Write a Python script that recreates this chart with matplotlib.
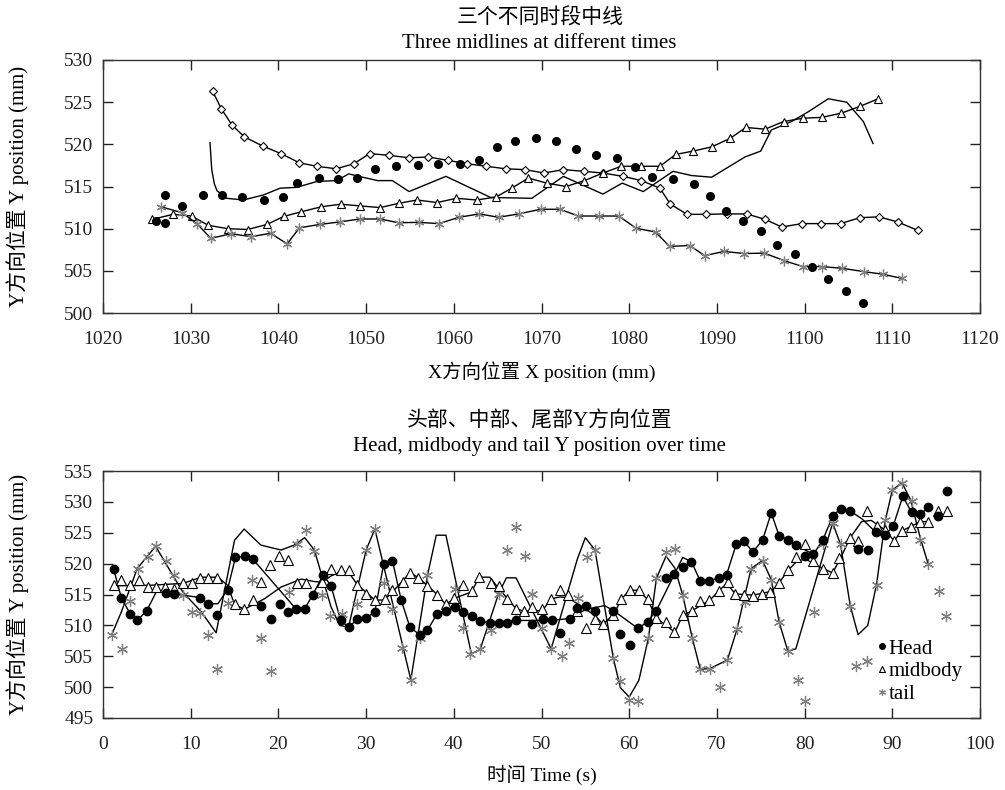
import numpy as np
import matplotlib
matplotlib.use("Agg")
import matplotlib.pyplot as plt
from matplotlib.lines import Line2D

plt.rcParams['font.family'] = ['Liberation Serif', 'Noto Sans CJK SC']
plt.rcParams['axes.unicode_minus'] = False

# ---- top panel: three midlines at different times (X mm, Y mm) ----
dia_x = [1032.5, 1033.5, 1034.7, 1036.1, 1038.2, 1040.3, 1042.4, 1044.4, 1046.6, 1048.6,
         1050.4, 1052.6, 1054.9, 1057.1, 1059.3, 1061.5, 1063.7, 1065.9, 1068.1, 1070.3,
         1072.5, 1074.8, 1077.0, 1079.3, 1081.4, 1083.5, 1084.7, 1086.6, 1088.8, 1091.1,
         1093.4, 1095.5, 1097.4, 1099.7, 1101.9, 1104.1, 1106.3, 1108.5, 1110.6, 1112.9]
dia_y = [526.3, 524.2, 522.3, 520.9, 519.8, 518.9, 517.8, 517.4, 517.1, 517.7,
         518.9, 518.7, 518.4, 518.5, 518.1, 517.7, 517.4, 517.1, 517.0, 516.6,
         517.0, 516.8, 516.6, 516.2, 515.7, 514.8, 512.9, 511.7, 511.7, 511.75,
         511.75, 511.1, 510.2, 510.6, 510.6, 510.6, 511.3, 511.4, 510.8, 509.8]

tri_x = [1025.6, 1028.0, 1030.1, 1032.0, 1034.2, 1036.5, 1038.7, 1040.6, 1042.6, 1044.9,
         1047.1, 1049.3, 1051.6, 1053.7, 1055.8, 1058.1, 1060.3, 1062.6, 1064.8, 1066.6,
         1068.5, 1070.6, 1072.8, 1074.9, 1077.0, 1079.1, 1081.4, 1083.5, 1085.3, 1087.3,
         1089.4, 1091.5, 1093.3, 1095.5, 1097.6, 1099.8, 1102.0, 1104.2, 1106.3, 1108.4]
tri_y = [511.1, 511.7, 511.5, 510.4, 510.0, 509.9, 510.5, 511.45, 512.0, 512.6,
         512.9, 512.7, 512.5, 513.0, 513.4, 513.1, 513.6, 513.4, 513.75, 514.8,
         516.0, 515.4, 515.0, 515.7, 516.6, 517.4, 517.4, 517.4, 518.8, 519.2,
         519.7, 520.7, 522.0, 521.8, 522.7, 523.1, 523.2, 523.7, 524.5, 525.4]

star_x = [1026.6, 1029.0, 1030.7, 1032.3, 1034.6, 1036.9, 1039.1, 1041.0, 1042.4, 1044.7,
          1047.0, 1049.3, 1051.6, 1053.7, 1056.0, 1058.3, 1060.6, 1062.9, 1065.1, 1067.4,
          1069.9, 1072.1, 1074.2, 1076.5, 1078.8, 1080.8, 1083.0, 1084.6, 1086.9, 1088.6,
          1090.8, 1093.1, 1095.4, 1097.7, 1099.8, 1102.0, 1104.3, 1106.8, 1108.9, 1111.1]
star_y = [512.6, 511.9, 510.6, 508.85, 509.4, 509.05, 509.45, 508.2, 510.1, 510.5,
          510.8, 511.15, 511.15, 510.7, 510.75, 510.6, 511.35, 511.75, 511.35, 511.75,
          512.3, 512.3, 511.5, 511.5, 511.5, 510.05, 509.6, 507.9, 508.0, 506.8,
          507.3, 507.05, 507.1, 506.2, 505.5, 505.5, 505.3, 504.9, 504.6, 504.1]

dot_x = [1026.1, 1027.1, 1027.1, 1029.0, 1031.35, 1033.6, 1035.9, 1038.4, 1040.5, 1042.1,
         1044.6, 1046.8, 1049.0, 1051.0, 1053.4, 1055.9, 1058.2, 1060.7, 1062.9, 1064.9,
         1067.0, 1069.4, 1071.7, 1073.9, 1076.2, 1078.6, 1080.7, 1082.6, 1085.0, 1087.4,
         1089.2, 1091.0, 1093.0, 1095.0, 1096.9, 1098.9, 1100.8, 1102.7, 1104.7, 1106.7]
dot_y = [510.95, 510.7, 514.0, 512.7, 514.0, 514.0, 513.7, 513.45, 513.7, 515.4,
         516.0, 515.9, 516.0, 517.1, 517.4, 517.5, 517.7, 517.7, 518.1, 519.7,
         520.4, 520.8, 520.4, 519.4, 518.7, 518.4, 517.3, 516.1, 515.9, 515.3,
         513.85, 512.1, 510.9, 509.7, 508.1, 507.0, 505.4, 504.0, 502.6, 501.2]

curve_x = [1032.2, 1032.4, 1032.7, 1033.0, 1034.1, 1036.0, 1038.3, 1040.2, 1042.1, 1044.4,
           1046.7, 1048.0, 1049.2, 1051.3, 1053.0, 1054.9, 1059.1, 1064.2, 1068.9, 1072.5,
           1077.0, 1079.2, 1081.6, 1085.0, 1087.1, 1089.4, 1091.3, 1093.2, 1095.0, 1096.2,
           1098.5, 1100.4, 1102.7, 1104.8, 1106.7, 1107.8]
curve_y = [520.2, 517.0, 515.3, 514.5, 513.6, 513.4, 514.0, 514.8, 514.9, 515.6,
           515.7, 516.5, 516.2, 515.7, 515.7, 514.4, 516.2, 513.7, 513.6, 516.2,
           514.1, 515.4, 514.4, 516.8, 516.3, 516.1, 517.3, 518.5, 519.2, 521.7,
           522.7, 523.85, 525.4, 525.0, 522.7, 520.1]

# ---- bottom panel: head / midbody / tail Y position over time ----
head_t = [1.2, 2.1, 3.1, 3.9, 5.0, 7.2, 8.1, 11.1, 12.0, 13.0, 14.2, 15.1, 16.2, 17.1, 18.0,
          19.1, 20.2, 21.1, 22.0, 23.0, 23.9, 25.1, 26.0, 27.1, 28.0, 29.0, 30.0, 31.0, 32.0,
          33.0, 34.0, 35.0, 36.1, 37.0, 38.1, 39.1, 40.1, 41.1, 42.1, 43.0, 44.1, 45.1, 46.1,
          47.1, 48.9, 50.2, 51.2, 52.1, 53.2, 54.1, 55.1, 56.1, 58.2, 59.0, 60.1, 61.0, 62.1,
          63.1, 64.2, 65.1, 66.1, 67.1, 68.1, 69.1, 70.2, 71.2, 72.2, 73.1, 74.1, 75.2, 76.2,
          77.1, 78.1, 79.0, 80.0, 81.0, 82.1, 83.2, 84.1, 85.2, 86.1, 87.2, 88.1, 89.2, 90.1,
          91.2, 92.2, 93.2, 94.1, 95.2, 96.2]
head_v = [519.2, 514.4, 511.9, 510.8, 512.4, 515.3, 515.1, 514.5, 513.5, 511.7, 515.8, 521.0,
          521.2, 520.7, 513.1, 511.1, 513.4, 512.2, 512.7, 512.7, 514.9, 518.2, 516.4, 510.8,
          509.7, 511.0, 511.2, 512.2, 519.9, 520.5, 514.1, 509.7, 508.5, 509.2, 511.9, 512.4,
          513.0, 512.2, 511.5, 510.7, 510.4, 510.4, 510.4, 510.8, 510.2, 511.1, 510.8, 508.8,
          511.1, 512.8, 513.2, 512.4, 512.4, 508.6, 506.9, 509.5, 510.6, 512.4, 517.7, 518.4,
          519.5, 520.3, 517.2, 517.2, 517.7, 518.2, 523.1, 523.6, 521.9, 523.8, 528.2, 524.5,
          523.9, 523.0, 521.2, 521.5, 523.9, 527.7, 528.9, 528.5, 522.4, 522.2, 525.1, 524.6,
          526.1, 530.9, 528.3, 528.0, 529.1, 527.7, 531.8]
head_line_t = [1.2, 2.1, 3.1, 3.9, 5.0, 6.1, 7.2, 8.1, 11.1, 12.0, 13.1, 14.2, 15.1, 16.2, 17.1,
               21.8, 23.0, 23.9, 25.1, 26.0, 27.1, 28.0, 29.0, 30.0, 31.0, 32.0, 33.0, 34.0,
               35.0, 36.1, 37.0, 38.1, 39.1, 40.1, 41.1, 42.1, 43.0, 44.1, 47.1, 51.1, 53.1,
               55.1, 57.2, 58.2, 61.0, 62.1, 63.1, 65.2, 66.1, 67.1, 68.1, 69.1, 70.2, 71.1,
               72.2, 73.1, 74.1, 75.2, 76.2, 77.1, 78.1, 79.0, 81.0, 82.1, 83.2, 84.1, 85.2,
               86.5, 88.1, 89.2, 90.1, 91.2, 92.2, 93.2, 94.1]
head_line_v = [519.2, 514.4, 511.9, 510.8, 512.4, 515.5, 515.3, 515.1, 514.5, 513.5, 513.5,
               515.8, 521.0, 521.2, 520.7, 513.0, 512.7, 514.9, 518.2, 516.4, 510.8, 509.7,
               511.0, 511.2, 512.2, 519.9, 520.5, 514.1, 509.7, 508.5, 509.2, 511.9, 512.4,
               513.0, 512.2, 511.5, 510.7, 510.4, 510.8, 510.8, 511.1, 512.6, 513.2, 512.4,
               509.5, 510.6, 512.4, 518.4, 521.0, 520.3, 517.2, 517.2, 517.7, 518.2, 523.1,
               523.6, 521.9, 523.8, 528.2, 524.5, 523.9, 523.0, 521.5, 523.9, 527.7, 528.9,
               528.5, 527.3, 525.1, 524.6, 526.1, 530.9, 528.3, 528.0, 529.1]

mid_t = [1.2, 2.1, 3.1, 4.1, 5.1, 6.0, 7.1, 8.1, 9.1, 10.1, 11.1, 12.0, 13.0, 15.1, 16.1, 17.1,
         18.0, 19.0, 20.1, 21.1, 22.1, 23.2, 25.0, 26.0, 27.1, 28.1, 29.0, 30.0, 31.0, 32.1,
         33.0, 34.2, 35.0, 35.9, 36.9, 38.1, 39.1, 40.0, 41.1, 42.1, 42.9, 44.2, 45.1, 46.1,
         47.1, 48.0, 48.9, 50.1, 51.1, 52.1, 53.0, 54.1, 55.1, 56.1, 57.0, 58.2, 59.1, 60.1,
         61.1, 62.1, 63.1, 64.2, 65.1, 66.1, 67.2, 68.1, 69.1, 70.2, 71.3, 72.1, 73.1, 74.1,
         75.1, 76.1, 77.1, 78.1, 79.0, 80.0, 81.0, 82.1, 83.2, 83.9, 85.2, 86.1, 87.1, 88.2,
         89.2, 90.2, 91.1, 92.1, 93.2, 94.1, 95.2, 96.2]
mid_v = [516.5, 517.4, 516.6, 517.3, 516.2, 516.2, 516.2, 515.9, 516.8, 516.8, 517.7, 517.7,
         517.7, 513.4, 512.6, 514.1, 517.0, 519.8, 521.2, 520.6, 516.9, 516.8, 517.0, 519.2,
         518.9, 518.9, 516.5, 515.1, 514.1, 514.3, 515.7, 517.0, 518.5, 517.7, 516.4, 515.0,
         513.5, 514.4, 516.5, 515.5, 517.8, 516.9, 516.4, 514.2, 512.7, 512.3, 512.9, 512.7,
         514.2, 515.7, 514.9, 512.3, 509.5, 511.1, 510.2, 511.7, 514.2, 515.8, 515.8, 514.2,
         511.2, 510.6, 509.0, 511.7, 512.4, 513.9, 514.1, 515.6, 517.0, 515.1, 515.0, 514.8,
         515.1, 515.4, 516.9, 518.9, 521.1, 523.1, 520.4, 519.1, 518.5, 520.9, 524.2, 523.6,
         528.5, 526.1, 525.4, 523.6, 525.3, 525.9, 526.8, 526.8, 528.5, 528.5]
mid_line_t = [1.2, 5.5, 9.1, 11.2, 13.1, 14.2, 15.0, 16.1, 18.4, 20.3, 22.6, 24.1, 25.0, 26.0,
              27.0, 28.1, 29.0, 31.0, 32.1, 33.0, 35.0, 35.9, 37.8, 39.1, 40.1, 42.0, 42.9,
              44.1, 45.0, 47.1, 48.0, 50.1, 51.1, 52.1, 53.0, 54.1, 56.1, 57.0, 58.2, 59.1,
              60.0, 61.0, 62.1, 63.1, 65.2, 66.1, 67.2, 69.2, 71.1, 72.1, 74.1, 76.2, 77.1,
              78.1, 79.2, 80.2, 81.3, 83.2, 84.2, 85.2, 86.5, 87.6, 89.2, 90.2, 91.1, 93.2, 94.1]
mid_line_v = [516.4, 516.5, 516.8, 517.8, 517.8, 516.5, 513.4, 512.6, 514.3, 516.2, 517.5,
              517.1, 517.0, 518.0, 518.6, 518.4, 516.6, 514.1, 514.1, 515.4, 518.5, 517.8,
              515.4, 513.4, 514.4, 515.4, 517.8, 517.8, 516.2, 512.7, 512.3, 512.4, 514.3,
              514.6, 514.5, 513.5, 511.6, 510.2, 511.7, 514.2, 515.7, 515.7, 514.2, 511.2,
              508.9, 511.6, 512.4, 514.1, 516.8, 515.1, 514.9, 515.5, 516.9, 518.9, 520.5,
              520.7, 519.7, 518.5, 521.2, 524.2, 526.8, 527.0, 525.4, 523.7, 525.3, 526.8, 526.8]

tail_t = [1.0, 2.2, 3.1, 4.0, 5.1, 6.0, 7.2, 8.1, 9.1, 10.2, 11.1, 12.0, 13.0, 14.2, 17.0,
          18.0, 19.2, 21.2, 22.1, 23.1, 24.1, 25.0, 25.9, 27.2, 29.0, 30.0, 31.0, 32.0, 33.0,
          34.1, 35.1, 36.2, 37.0, 40.1, 41.1, 41.9, 43.0, 44.2, 45.1, 46.1, 47.1, 48.1, 48.9,
          50.1, 51.1, 52.3, 53.1, 54.2, 55.2, 56.1, 58.2, 59.0, 60.0, 61.0, 62.2, 63.1, 64.2,
          65.2, 66.1, 67.2, 68.1, 69.2, 70.3, 71.2, 72.3, 73.2, 73.9, 75.2, 76.2, 77.1, 78.1,
          79.2, 80.0, 81.1, 82.1, 83.2, 84.1, 85.2, 85.9, 87.1, 88.2, 89.2, 90.0, 91.1, 92.2,
          93.2, 94.1, 95.3, 96.1]
tail_v = [508.5, 506.1, 513.9, 519.2, 521.1, 522.8, 520.5, 518.1, 514.9, 512.2, 512.0, 508.4,
          502.9, 513.7, 517.4, 508.0, 502.6, 515.4, 523.1, 525.4, 522.0, 515.0, 511.5, 511.9,
          513.5, 522.2, 525.6, 516.9, 512.7, 506.3, 501.2, 507.9, 518.1, 515.9, 509.6, 505.4,
          506.1, 509.2, 515.1, 522.2, 525.9, 521.2, 515.1, 509.5, 506.2, 505.1, 507.1, 514.5,
          521.1, 522.2, 504.7, 501.0, 497.9, 497.7, 508.0, 517.6, 521.9, 522.4, 514.9, 507.9,
          502.9, 503.0, 500.0, 504.4, 509.4, 513.8, 519.2, 520.5, 517.4, 510.5, 505.8, 501.2,
          497.7, 512.1, 523.1, 526.6, 523.1, 513.2, 503.4, 504.2, 516.6, 527.0, 531.9, 533.1,
          530.2, 523.9, 519.9, 515.5, 511.5]
tail_line_t = [1.0, 2.1, 3.9, 6.0, 9.1, 11.2, 12.9, 15.0, 16.1, 18.0, 20.3, 21.8, 23.0, 24.1,
               26.0, 27.0, 28.0, 30.0, 31.0, 35.1, 37.0, 38.0, 39.1, 42.0, 43.0, 45.1, 46.0,
               47.1, 51.1, 54.1, 55.0, 56.1, 58.2, 59.0, 60.0, 61.1, 62.2, 63.1, 64.2, 65.2,
               66.1, 67.2, 68.1, 69.2, 71.2, 72.3, 73.9, 75.2, 76.2, 77.1, 78.1, 79.0, 83.2,
               84.1, 85.2, 86.1, 87.2, 88.2, 89.2, 90.0, 91.1, 92.1, 93.2, 94.1]
tail_line_v = [508.5, 512.2, 519.2, 522.8, 515.4, 512.2, 508.8, 523.8, 525.6, 523.0, 522.2,
               523.0, 524.2, 522.2, 513.0, 510.0, 509.7, 522.2, 525.6, 501.2, 518.1, 524.6,
               524.6, 505.4, 506.1, 515.1, 517.7, 517.7, 506.2, 520.8, 524.2, 522.2, 504.6,
               499.9, 498.4, 501.1, 508.0, 517.6, 521.2, 519.3, 514.9, 507.9, 502.9, 503.0,
               504.4, 509.4, 519.2, 520.5, 517.4, 510.5, 505.8, 506.2, 526.6, 523.1, 513.2,
               508.5, 510.0, 516.6, 527.0, 531.9, 533.1, 530.3, 524.1, 519.9]

GRAY = '#7f7f7f'
ASTER = (6, 2, 0)
FS = 14

fig = plt.figure(figsize=(10.05, 7.90), dpi=100)
ax1 = fig.add_axes([103 / 1005, 1 - 313 / 790, 877 / 1005, 253 / 790])
ax2 = fig.add_axes([103 / 1005, 1 - 718 / 790, 877 / 1005, 247 / 790])

# top
ax1.plot(curve_x, curve_y, color='black', lw=1.0)
ax1.plot(dia_x, dia_y, color='black', lw=1.0, marker='D', ms=4.5,
         mfc='white', mec='black', mew=0.8)
ax1.plot(tri_x, tri_y, color='black', lw=1.0, marker='^', ms=6,
         mfc='white', mec='black', mew=0.8)
ax1.plot(star_x, star_y, color='black', lw=1.0)
ax1.plot(star_x, star_y, ls='none', marker=ASTER, ms=7, mec=GRAY, mew=0.9)
ax1.plot(dot_x, dot_y, ls='none', marker='o', ms=5.5, color='black')
ax1.set_xlim(1020, 1120)
ax1.set_ylim(500, 530)
ax1.set_xticks(np.arange(1020, 1121, 10))
ax1.set_yticks(np.arange(500, 531, 5))
ax1.set_xlabel('X方向位置 X position (mm)', fontsize=FS)
ax1.set_ylabel('Y方向位置 Y position (mm)', fontsize=15)
ax1.xaxis.set_label_coords(0.5, (313 - 372) / 253)
ax1.yaxis.set_label_coords((18 - 103) / 877, 0.5)

# bottom
ax2.plot(head_line_t, head_line_v, color='black', lw=1.0)
ax2.plot(mid_line_t, mid_line_v, color='black', lw=1.0)
ax2.plot(tail_line_t, tail_line_v, color='black', lw=1.0)
ax2.plot(tail_t, tail_v, ls='none', marker=ASTER, ms=8, mec=GRAY, mew=0.9)
ax2.plot(mid_t, mid_v, ls='none', marker='^', ms=7, mfc='white', mec='black', mew=0.8)
ax2.plot(head_t, head_v, ls='none', marker='o', ms=6, color='black')
ax2.set_xlim(0, 100)
ax2.set_ylim(495, 535)
ax2.set_xticks(np.arange(0, 101, 10))
ax2.set_yticks(np.arange(495, 536, 5))
ax2.set_xlabel('时间 Time (s)', fontsize=FS)
ax2.set_ylabel('Y方向位置 Y position (mm)', fontsize=15)
ax2.xaxis.set_label_coords(0.5, (718 - 775) / 247)
ax2.yaxis.set_label_coords((18 - 103) / 877, 0.5)

for ax in (ax1, ax2):
    ax.xaxis.label.set_va('center')
    ax.yaxis.label.set_va('center')
    ax.tick_params(direction='in', length=7, width=1, top=True, right=True,
                   labelsize=FS, colors='#222222')
    ax.tick_params(axis='x', pad=13)
    ax.tick_params(axis='y', pad=7)
    for s in ax.spines.values():
        s.set_linewidth(1.0)
        s.set_color('#333333')

handles = [Line2D([], [], ls='none', marker='o', ms=4, color='black'),
           Line2D([], [], ls='none', marker='^', ms=4.5, mfc='white', mec='black', mew=0.8),
           Line2D([], [], ls='none', marker=ASTER, ms=5, mec=GRAY, mew=0.8)]
ax2.legend(handles, ['Head', 'midbody', 'tail'], loc='upper left',
           bbox_to_anchor=(0.883, 0.32), frameon=False, fontsize=15,
           handlelength=0.4, handletextpad=0.15, labelspacing=0.15, borderpad=0,
           borderaxespad=0)

fig.text(0.537, 1 - 18 / 790, '三个不同时段中线', ha='center', va='center', fontsize=15)
fig.text(0.537, 1 - 43 / 790, 'Three midlines at different times', ha='center',
         va='center', fontsize=15)
fig.text(0.537, 1 - 422 / 790, '头部、中部、尾部Y方向位置', ha='center', va='center', fontsize=15)
fig.text(0.537, 1 - 446 / 790, 'Head, midbody and tail Y position over time', ha='center',
         va='center', fontsize=15)

fig.savefig('out.png', dpi=100)
